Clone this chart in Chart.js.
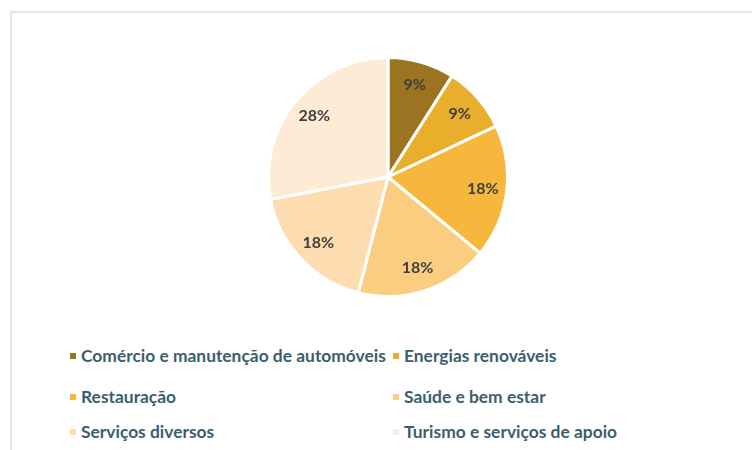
<!DOCTYPE html>
<html>
<head>
<meta charset="utf-8">
<script src="https://cdn.jsdelivr.net/npm/chart.js@4"></script>
<style>
    html, body { margin: 0; padding: 0; background: #ffffff; }
    #frame {
        position: absolute; left: 10px; top: 11px; width: 760px; height: 450px;
        border-left: 2px solid #e4e6e6; border-top: 2px solid #e4e6e6;
    }
    #pie-box { position: absolute; left: 267px; top: 56px; width: 242px; height: 242px; }
    .legend-item {
        position: absolute; font-family: 'Lato', sans-serif; font-weight: 700;
        font-size: 17.4px; color: #3b5e6c; white-space: nowrap;
    }
    .legend-item span.box {
        display: inline-block; width: 6px; height: 6px; margin-right: 5px; vertical-align: 3px;
    }
</style>
</head>
<body>
<div id="frame"></div>
<div id="pie-box"><canvas id="pie"></canvas></div>
<div id="legend"></div>
<script>
// Dados
const categorias = [
    'Comércio e manutenção de automóveis',
    'Energias renováveis',
    'Restauração',
    'Saúde e bem estar',
    'Serviços diversos',
    'Turismo e serviços de apoio'
];
const percentagens = [9, 9, 18, 18, 18, 28];
const cores = ['#9c7421', '#e8ae2c', '#f7b63e', '#fbcd80', '#fddcb0', '#feebd6'];

// rótulos de percentagem dentro das fatias
const pctLabels = {
    id: 'pctLabels',
    afterDatasetsDraw(chart) {
        const ctx = chart.ctx;
        const meta = chart.getDatasetMeta(0);
        ctx.save();
        ctx.font = "bold 16px 'Lato', sans-serif";
        ctx.fillStyle = '#3f3f3f';
        ctx.textAlign = 'center';
        ctx.textBaseline = 'middle';
        meta.data.forEach((arc, i) => {
            const mid = (arc.startAngle + arc.endAngle) / 2;
            const r = arc.outerRadius * 0.8;
            ctx.fillText(percentagens[i] + '%', arc.x + Math.cos(mid) * r, arc.y + Math.sin(mid) * r);
        });
        ctx.restore();
    }
};

new Chart(document.getElementById('pie'), {
    type: 'pie',
    data: {
        labels: categorias,
        datasets: [{
            data: percentagens,
            backgroundColor: cores,
            borderColor: '#ffffff',
            borderWidth: 3
        }]
    },
    options: {
        responsive: true,
        maintainAspectRatio: false,
        animation: false,
        layout: { padding: 0 },
        plugins: { legend: { display: false }, tooltip: { enabled: false } }
    },
    plugins: [pctLabels]
});

// legenda em duas colunas
const legendPos = [[70, 345], [393, 345], [70, 386], [393, 386], [70, 421], [393, 421]];
document.getElementById('legend').innerHTML = categorias.map((c, i) => `
    <div class="legend-item" style="left:${legendPos[i][0]}px; top:${legendPos[i][1]}px">
        <span class="box" style="background:${cores[i]}"></span>${c}
    </div>`).join('');
</script>
</body>
</html>
